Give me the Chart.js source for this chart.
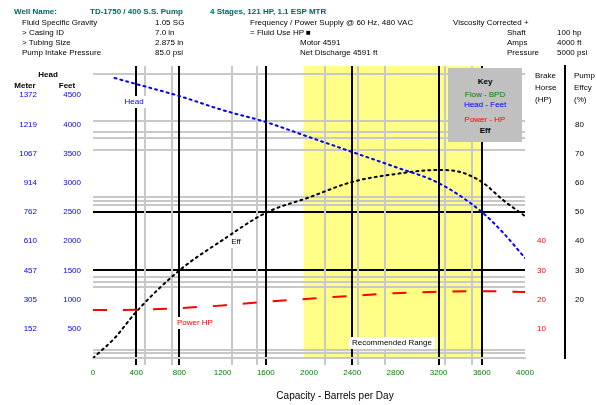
<!DOCTYPE html>
<html>
<head>
<meta charset="utf-8">
<script src="https://cdn.jsdelivr.net/npm/chart.js@4.4.1/dist/chart.umd.min.js"></script>
<style>
  body { margin: 0; background: #fff; font-family: "Liberation Sans", Arial, sans-serif; }
  #wrap { position: relative; width: 597px; height: 405px; overflow: hidden; }
  canvas { position: absolute; left: 0; top: 0; }
  .t { position: absolute; font-size: 8px; line-height: 10px; white-space: nowrap; color: #000; }
  .h1 { color: #006666; font-weight: bold; }
  .c { transform: translateX(-50%); }
  #key { position: absolute; left: 448px; top: 68px; width: 74px; height: 74px; background: #c0c0c0; }
</style>
</head>
<body>
<div id="wrap">
  <canvas id="chart" width="597" height="405"></canvas>

  <!-- header block -->
  <div class="t h1" style="left:14px;top:7px">Well Name:</div>
  <div class="t h1" style="left:90px;top:7px">TD-1750 / 400 S.S. Pump</div>
  <div class="t h1" style="left:210px;top:7px">4 Stages, 121 HP, 1.1 ESP MTR</div>

  <div class="t" style="left:22px;top:18px">Fluid Specific Gravity</div>
  <div class="t" style="left:155px;top:18px">1.05 SG</div>
  <div class="t" style="left:250px;top:18px">Frequency / Power Supply @ 60 Hz, 480 VAC</div>
  <div class="t" style="left:453px;top:18px">Viscosity Corrected  +</div>

  <div class="t" style="left:22px;top:28px">&gt; Casing ID</div>
  <div class="t" style="left:155px;top:28px">7.0 in</div>
  <div class="t" style="left:250px;top:28px">=  Fluid Use  HP  &#9632;</div>
  <div class="t" style="left:507px;top:28px">Shaft</div>
  <div class="t" style="left:557px;top:28px">100 hp</div>

  <div class="t" style="left:22px;top:38px">&gt; Tubing Size</div>
  <div class="t" style="left:155px;top:38px">2.875 in</div>
  <div class="t" style="left:300px;top:38px">Motor   4591</div>
  <div class="t" style="left:507px;top:38px">Amps</div>
  <div class="t" style="left:557px;top:38px">4000 ft</div>

  <div class="t" style="left:22px;top:48px">Pump Intake Pressure</div>
  <div class="t" style="left:155px;top:48px">85.0 psi</div>
  <div class="t" style="left:300px;top:48px">Net Discharge  4591 ft</div>
  <div class="t" style="left:507px;top:48px">Pressure</div>
  <div class="t" style="left:557px;top:48px">5000 psi</div>

  <!-- axis headers -->
  <div class="t c" style="left:48px;top:70px;font-weight:bold">Head</div>
  <div class="t c" style="left:25px;top:81px;font-weight:bold">Meter</div>
  <div class="t c" style="left:67px;top:81px;font-weight:bold">Feet</div>
  <div class="t" style="left:535px;top:71px">Brake</div>
  <div class="t" style="left:535px;top:83px">Horse</div>
  <div class="t" style="left:535px;top:95px">(HP)</div>
  <div class="t" style="left:574px;top:71px">Pump</div>
  <div class="t" style="left:574px;top:83px">Effcy</div>
  <div class="t" style="left:574px;top:95px">(%)</div>
  <div class="t c" style="left:335px;top:390px;font-size:10px;line-height:12px">Capacity - Barrels per Day</div>

  <!-- key -->
  <div id="key">
    <div class="t c" style="left:37px;top:9px;font-weight:bold">Key</div>
    <div class="t c" style="left:37px;top:22px;color:#008000">Flow - BPD</div>
    <div class="t c" style="left:37px;top:32px;color:#0000ff">Head - Feet</div>
    <div class="t c" style="left:37px;top:47px;color:#ff0000">Power - HP</div>
    <div class="t c" style="left:37px;top:58px;font-weight:bold">Eff</div>
  </div>
</div>

<script>
// grid lines (capacity, BPD / head, ft)
const VGRID_BLACK = [400, 800, 1600, 2400, 3200, 3600];
const VGRID_GRAY = [480, 730, 1290, 1520, 2150, 2450, 2700, 3260, 3510];
const HGRID_BLACK = [1500, 2500];
const HGRID_GRAY = [4860, 4060, 3870, 3770, 3560, 2760, 2690, 2620, 1390, 1300, 1220, 140, 90];

// tick labels
const xTicks = [0, 400, 800, 1200, 1600, 2000, 2400, 2800, 3200, 3600, 4000];
const ftTicks = [500, 1000, 1500, 2000, 2500, 3000, 3500, 4000, 4500];
const meterLabels = ['152', '305', '457', '610', '762', '914', '1067', '1219', '1372'];
const hpTicks = [10, 20, 30, 40];
const effTicks = [20, 30, 40, 50, 60, 70, 80];

// recommended operating range, BPD
const RANGE = [1950, 3600];

// curves
const headFlow = [200, 400, 800, 1200, 1600, 2000, 2400, 2800, 3200, 3600, 3800, 4000];
const headFt   = [4794, 4691, 4485, 4246, 4040, 3784, 3527, 3270, 2996, 2500, 2140, 1712];
const effFlow  = [0, 200, 400, 800, 1200, 1600, 2000, 2400, 2800, 3200, 3400, 3600, 3800, 4000];
const effPct   = [0, 6.8, 15.8, 30, 40.4, 49.7, 55, 60.3, 63, 64.4, 63.7, 60.3, 54, 48.6];
const hpFlow   = [0, 400, 800, 1200, 1600, 2000, 2400, 2800, 3200, 3600, 4000];
const hpVal    = [16.4, 16.5, 17.1, 18.0, 19.3, 20.3, 21.3, 22.2, 22.7, 22.9, 22.6];

// labels written on the curves
const notes = [
  { text: 'Head', x: 380, y: 4383, axis: 'yFt', color: '#0000ff' },
  { text: 'Eff', x: 1324, y: 39.7, axis: 'yEff', color: '#000000' },
  { text: 'Power HP', x: 944, y: 12, axis: 'yHP', color: '#ff0000' },
  { text: 'Recommended Range', x: 2768, y: 257, axis: 'yFt', color: '#000000' }
];

const FONT = "'Liberation Sans', Arial, sans-serif";
const pts = (xs, ys) => xs.map((x, i) => ({ x: x, y: ys[i] }));
const setTicks = list => scale => { scale.ticks = list.map(v => ({ value: v })); };
const plain = v => String(v);

const rangeBand = {
  id: 'rangeBand',
  beforeDraw(chart) {
    const { ctx, chartArea, scales } = chart;
    const x0 = scales.x.getPixelForValue(RANGE[0]);
    const x1 = scales.x.getPixelForValue(RANGE[1]);
    ctx.save();
    ctx.fillStyle = '#ffff88';
    ctx.fillRect(x0, chartArea.top, x1 - x0, chartArea.bottom - chartArea.top);
    ctx.restore();
  }
};

const curveNotes = {
  id: 'curveNotes',
  afterDatasetsDraw(chart) {
    const { ctx, scales } = chart;
    ctx.save();
    ctx.font = '8px ' + FONT;
    ctx.textAlign = 'center';
    ctx.textBaseline = 'middle';
    notes.forEach(n => {
      const px = scales.x.getPixelForValue(n.x);
      const py = scales[n.axis].getPixelForValue(n.y);
      const w = ctx.measureText(n.text).width + 6;
      ctx.fillStyle = '#fff';
      ctx.fillRect(px - w / 2, py - 6, w, 12);
      ctx.fillStyle = n.color;
      ctx.fillText(n.text, px, py);
    });
    ctx.restore();
  }
};

new Chart(document.getElementById('chart').getContext('2d'), {
  type: 'line',
  data: {
    datasets: [
      { label: 'Head', data: pts(headFlow, headFt), xAxisID: 'x', yAxisID: 'yFt',
        borderColor: '#0000ff', borderWidth: 2, borderDash: [2, 4], borderCapStyle: 'round',
        pointRadius: 0, cubicInterpolationMode: 'monotone' },
      { label: 'Eff', data: pts(effFlow, effPct), xAxisID: 'x', yAxisID: 'yEff',
        borderColor: '#000000', borderWidth: 2, borderDash: [2, 4], borderCapStyle: 'round',
        pointRadius: 0, cubicInterpolationMode: 'monotone' },
      { label: 'Power', data: pts(hpFlow, hpVal), xAxisID: 'x', yAxisID: 'yHP',
        borderColor: '#ff0000', borderWidth: 2, borderDash: [14, 16],
        pointRadius: 0, cubicInterpolationMode: 'monotone' }
    ]
  },
  options: {
    responsive: false,
    animation: false,
    devicePixelRatio: 1,
    layout: { padding: { top: 66, left: 0, right: 0, bottom: 0 } },
    plugins: { legend: { display: false }, tooltip: { enabled: false } },
    scales: {
      yGrid: {
        type: 'linear', position: 'left', weight: 0, min: 0, max: 5000,
        afterBuildTicks: setTicks(HGRID_GRAY.concat(HGRID_BLACK)),
        afterFit: s => { s.width = 0; },
        ticks: { display: false },
        grid: { drawTicks: false, lineWidth: 2,
                color: c => HGRID_BLACK.includes(c.tick.value) ? '#000000' : '#c8c8c8' },
        border: { display: false }
      },
      xGrid: {
        type: 'linear', position: 'bottom', weight: 0, min: 0, max: 4000,
        afterBuildTicks: setTicks(VGRID_GRAY.concat(VGRID_BLACK)),
        afterFit: s => { s.height = 7; },
        ticks: { display: false },
        grid: { tickLength: 7, lineWidth: 2,
                color: c => VGRID_BLACK.includes(c.tick.value) ? '#000000' : '#c8c8c8' },
        border: { display: true, color: '#c8c8c8', width: 2 }
      },
      x: {
        type: 'linear', position: 'bottom', weight: 1, min: 0, max: 4000,
        afterBuildTicks: setTicks(xTicks),
        afterFit: s => { s.height = 40; },
        ticks: { color: '#008000', font: { size: 8, family: FONT }, padding: 3, maxRotation: 0,
                 callback: plain },
        grid: { display: false, drawTicks: false },
        border: { display: false }
      },
      yFt: {
        type: 'linear', position: 'left', weight: 1, min: 0, max: 5000,
        afterBuildTicks: setTicks(ftTicks),
        afterFit: s => { s.width = 45; },
        ticks: { color: '#0000ff', font: { size: 8, family: FONT }, padding: 12, callback: plain },
        grid: { display: false, drawTicks: false },
        border: { display: false }
      },
      yM: {
        type: 'linear', position: 'left', weight: 2, min: 0, max: 5000,
        afterBuildTicks: setTicks(ftTicks),
        afterFit: s => { s.width = 48; },
        ticks: { color: '#0000ff', font: { size: 8, family: FONT }, padding: 11,
                 callback: (v, i) => meterLabels[i] },
        grid: { display: false, drawTicks: false },
        border: { display: false }
      },
      yHP: {
        type: 'linear', position: 'right', weight: 1, min: 0, max: 100,
        afterBuildTicks: setTicks(hpTicks),
        afterFit: s => { s.width = 40; },
        ticks: { color: '#ff0000', font: { size: 8, family: FONT }, padding: 12, callback: plain },
        grid: { display: false, drawTicks: false },
        border: { display: false }
      },
      yEff: {
        type: 'linear', position: 'right', weight: 2, min: 0, max: 100,
        afterBuildTicks: setTicks(effTicks),
        afterFit: s => { s.width = 32; },
        ticks: { color: '#000000', font: { size: 8, family: FONT }, padding: 10, callback: plain },
        grid: { display: false, drawTicks: false },
        border: { display: true, color: '#000000', width: 2 }
      }
    }
  },
  plugins: [rangeBand, curveNotes]
});
</script>
</body>
</html>
